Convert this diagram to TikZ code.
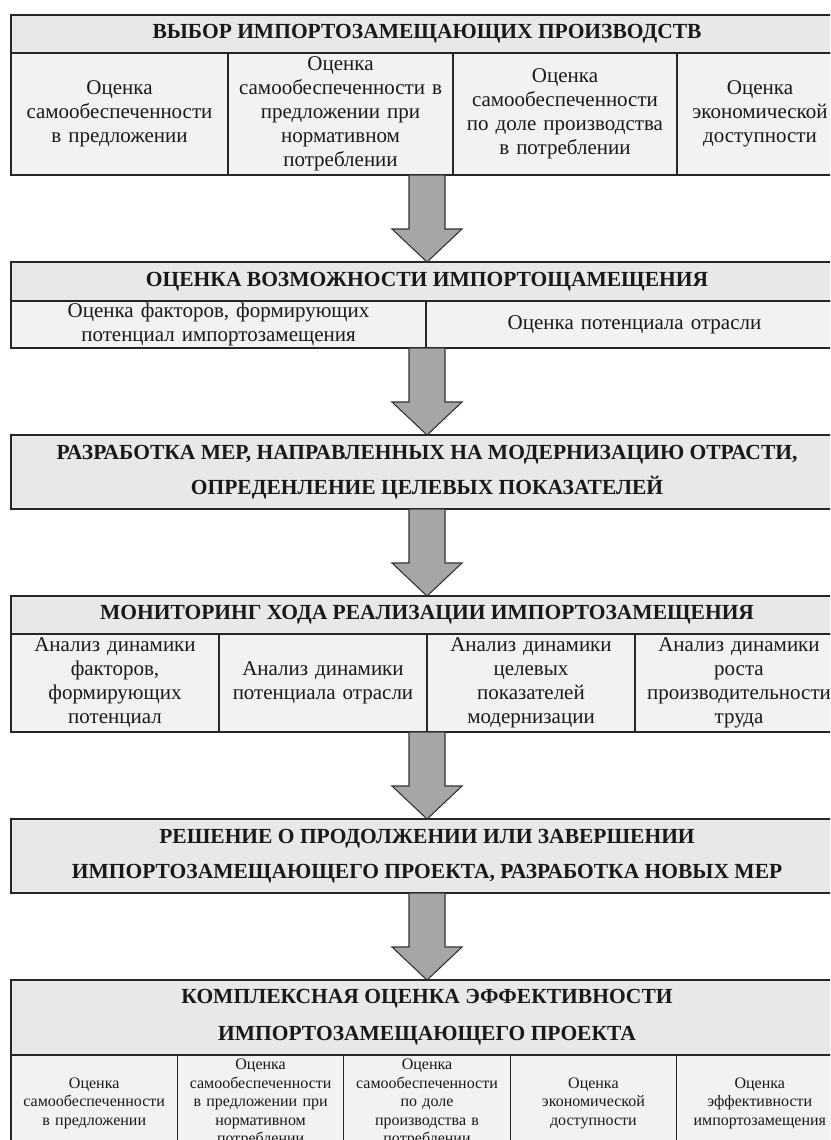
\documentclass[tikz,border=0pt]{standalone}
\usepackage{fontspec}
\setmainfont{Liberation Serif}
\usetikzlibrary{positioning,calc}

\newcommand{\hdrfont}{\bfseries\fontsize{21.5}{35}\selectfont}
\newcommand{\cellfont}{\fontsize{21}{24}\selectfont}
\newcommand{\smallcellfont}{\fontsize{16}{18.5}\selectfont}

\tikzset{
  hdr/.style={draw=black!85, line width=1.1pt, fill=black!9, text=black!90,
    font=\hdrfont, align=center, minimum width=832pt, inner sep=1pt,
    outer sep=0pt, anchor=north},
  cell/.style 2 args={draw=black!85, line width=1.1pt, fill=black!5, text=black!90,
    font=\cellfont, align=center, inner xsep=0pt, inner ysep=1pt, outer sep=0pt,
    text width=#1, minimum height=#2},
  flowarrow/.style={draw=black!80, fill=black!35, line width=1.1pt,
    to path={($(\tikztostart)+(-18,0)$) -- ($(\tikztotarget)+(-18,-33)$)
      -- ($(\tikztotarget)+(-35,-33)$) -- (\tikztotarget)
      -- ($(\tikztotarget)+(35,-33)$) -- ($(\tikztotarget)+(18,-33)$)
      -- ($(\tikztostart)+(18,0)$) -- cycle}}
}

\begin{document}
\begin{tikzpicture}[x=1pt, y=-1pt]
  \useasboundingbox (0,0) rectangle (830,1140);
  \clip (0,0) rectangle (830,1140);

  % choice of productions
  \node[hdr, minimum height=38pt] (sel) at (427,15) {ВЫБОР ИМПОРТОЗАМЕЩАЮЩИХ ПРОИЗВОДСТВ};
  \node[cell={217pt}{122pt}, below right=0pt and 0pt of sel.south west] (sel1)
    {Оценка\\самообеспеченности\\в предложении};
  \node[cell={225pt}{122pt}, right=0pt of sel1] (sel2)
    {Оценка\\самообеспеченности в\\предложении при\\нормативном\\потреблении};
  \node[cell={224pt}{122pt}, right=0pt of sel2] (sel3)
    {Оценка\\самообеспеченности\\по доле производства\\в потреблении};
  \node[cell={166pt}{122pt}, right=0pt of sel3] (sel4)
    {Оценка\\экономической\\доступности};
  \coordinate (selB) at (sel |- sel1.south);

  % possibility
  \node[hdr, minimum height=39pt, below=87pt of selB] (pos) {ОЦЕНКА ВОЗМОЖНОСТИ ИМПОРТОЩАМЕЩЕНИЯ};
  \node[cell={415pt}{47pt}, below right=0pt and 0pt of pos.south west] (pos1)
    {Оценка факторов, формирующих\\потенциал импортозамещения};
  \node[cell={417pt}{47pt}, right=0pt of pos1] (pos2) {Оценка потенциала отрасли};
  \coordinate (posB) at (pos |- pos1.south);

  % measures
  \node[hdr, minimum height=74pt, below=87pt of posB] (mod)
    {РАЗРАБОТКА МЕР, НАПРАВЛЕННЫХ НА МОДЕРНИЗАЦИЮ ОТРАСТИ,\\ОПРЕДЕНЛЕНИЕ ЦЕЛЕВЫХ ПОКАЗАТЕЛЕЙ};

  % monitoring
  \node[hdr, minimum height=38pt, below=87pt of mod.south] (mon)
    {МОНИТОРИНГ ХОДА РЕАЛИЗАЦИИ ИМПОРТОЗАМЕЩЕНИЯ};
  \node[cell={208pt}{98pt}, below right=0pt and 0pt of mon.south west] (mon1)
    {Анализ динамики\\факторов,\\формирующих\\потенциал};
  \node[cell={208pt}{98pt}, right=0pt of mon1] (mon2) {Анализ динамики\\потенциала отрасли};
  \node[cell={208pt}{98pt}, right=0pt of mon2] (mon3)
    {Анализ динамики\\целевых\\показателей\\модернизации};
  \node[cell={208pt}{98pt}, right=0pt of mon3] (mon4)
    {Анализ динамики\\роста\\производительности\\труда};
  \coordinate (monB) at (mon |- mon1.south);

  % decision
  \node[hdr, minimum height=74pt, below=87pt of monB] (dec)
    {РЕШЕНИЕ О ПРОДОЛЖЕНИИ ИЛИ ЗАВЕРШЕНИИ\\ИМПОРТОЗАМЕЩАЮЩЕГО ПРОЕКТА, РАЗРАБОТКА НОВЫХ МЕР};

  % efficiency
  \node[hdr, minimum height=75pt, below=87pt of dec.south,
    font=\bfseries\fontsize{21.5}{37}\selectfont] (eff)
    {КОМПЛЕКСНАЯ ОЦЕНКА ЭФФЕКТИВНОСТИ\\ИМПОРТОЗАМЕЩАЮЩЕГО ПРОЕКТА};
  \node[cell={166.4pt}{96pt}, font=\smallcellfont,
    below right=0pt and 0pt of eff.south west] (eff1)
    {Оценка\\самообеспеченности\\в предложении};
  \node[cell={166.4pt}{96pt}, font=\smallcellfont, right=0pt of eff1] (eff2)
    {Оценка\\самообеспеченности\\в предложении при\\нормативном\\потреблении};
  \node[cell={166.4pt}{96pt}, font=\smallcellfont, right=0pt of eff2] (eff3)
    {Оценка\\самообеспеченности\\по доле\\производства в\\потреблении};
  \node[cell={166.4pt}{96pt}, font=\smallcellfont, right=0pt of eff3] (eff4)
    {Оценка\\экономической\\доступности};
  \node[cell={166.4pt}{96pt}, font=\smallcellfont, right=0pt of eff4] (eff5)
    {Оценка\\эффективности\\импортозамещения};

  % arrows
  \draw[flowarrow] (selB) to (pos.north);
  \draw[flowarrow] (posB) to (mod.north);
  \draw[flowarrow] (mod.south) to (mon.north);
  \draw[flowarrow] (monB) to (dec.north);
  \draw[flowarrow] (dec.south) to (eff.north);
\end{tikzpicture}
\end{document}
